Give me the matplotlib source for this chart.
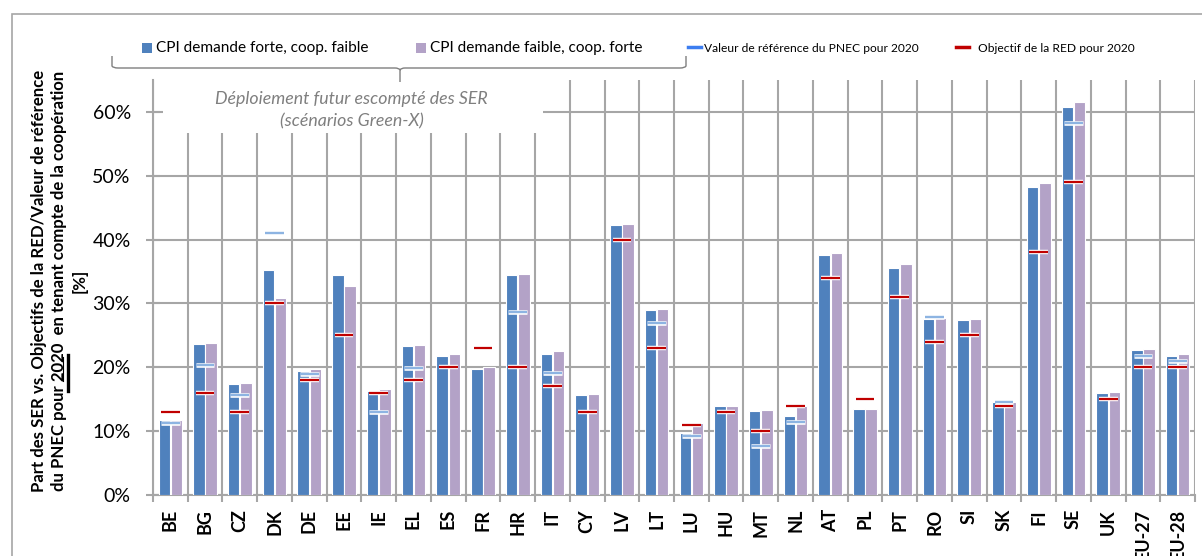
import numpy as np
import matplotlib
matplotlib.use('Agg')
import matplotlib.pyplot as plt
import matplotlib.patheffects as pe
from matplotlib.patches import Rectangle
from matplotlib.lines import Line2D
from matplotlib.path import Path
from matplotlib.patches import PathPatch

# --- data (% values) ---
countries = ['BE', 'BG', 'CZ', 'DK', 'DE', 'EE', 'IE', 'EL', 'ES', 'FR', 'HR', 'IT', 'CY', 'LV', 'LT',
             'LU', 'HU', 'MT', 'NL', 'AT', 'PL', 'PT', 'RO', 'SI', 'SK', 'FI', 'SE', 'UK', 'EU-27', 'EU-28']
cpi_high_demand = [11.7, 23.7, 17.4, 35.2, 19.5, 34.4, 16.3, 23.3, 21.7, 19.8, 34.4, 22.1, 15.6, 42.3, 28.9,
                   9.7, 14.0, 13.1, 12.3, 37.6, 13.5, 35.6, 27.6, 27.4, 14.5, 48.3, 60.7, 16.0, 22.7, 21.8]
cpi_low_demand = [11.7, 23.8, 17.6, 30.9, 19.8, 32.8, 16.6, 23.5, 22.1, 20.1, 34.6, 22.5, 15.8, 42.5, 29.2,
                  11.3, 14.0, 13.3, 13.9, 37.9, 13.5, 36.2, 27.7, 27.5, 14.6, 48.8, 61.5, 16.2, 22.9, 22.1]
pnec_ref = [11.2, 20.3, 15.7, 41.0, 18.9, np.nan, 13.0, 19.9, np.nan, np.nan, 28.7, 19.1, np.nan, np.nan, 26.9,
            9.3, np.nan, 7.7, 11.4, np.nan, np.nan, np.nan, 27.9, np.nan, 14.5, np.nan, 58.3, np.nan, 21.8, 21.0]
red_target = [13, 16, 13, 30, 18, 25, 16, 18, 20, 23, 20, 17, 13, 40, 23,
              11, 13, 10, 14, 34, 15, 31, 24, 25, 14, 38, 49, 15, 20, 20]

BLUE = '#4F81BD'
PURPLE = '#B3A2C7'
PNEC_C = '#8DB4E2'
RED_C = '#C00000'
GRID = '#A6A6A6'
MAIN_FONT = ['Lato', 'DejaVu Sans']

W, H = 1202, 556
fig = plt.figure(figsize=(W / 100, H / 100), dpi=100)


def fx(px):
    return px / W


def fy(py):
    return 1 - py / H


ax = fig.add_axes([fx(153), fy(495), (1195 - 153) / W, (495 - 80) / H])

x = np.arange(len(countries))
ax.bar(x - 0.175, cpi_high_demand, 0.33, color=BLUE, edgecolor='white', linewidth=0.8, zorder=3)
ax.bar(x + 0.175, cpi_low_demand, 0.33, color=PURPLE, edgecolor='white', linewidth=0.8, zorder=3)

pn = np.array(pnec_ref)
m = ~np.isnan(pn)
ax.hlines(pn[m], x[m] - 0.27, x[m] + 0.27, color=PNEC_C, linewidth=1.7, zorder=4,
          path_effects=[pe.Stroke(linewidth=3.3, foreground='white'), pe.Normal()])
ax.hlines(red_target, x - 0.27, x + 0.27, color=RED_C, linewidth=1.6, zorder=5,
          path_effects=[pe.Stroke(linewidth=3.2, foreground='white'), pe.Normal()])

ax.set_xlim(-0.5, len(countries) - 0.5)
ax.set_ylim(0, 65)
ax.set_yticks(np.arange(0, 61, 10))
ax.set_yticklabels([f'{v}%' for v in range(0, 61, 10)], fontsize=14, family=MAIN_FONT)
ax.set_xticks(x)
ax.set_xticklabels(countries, rotation=90, fontsize=13, fontweight='bold', family=MAIN_FONT)
ax.set_xticks(np.arange(-0.5, len(countries), 1), minor=True)
ax.tick_params(axis='x', which='major', length=0, pad=10)
ax.tick_params(axis='x', which='minor', length=5, color=GRID, width=1.5)
ax.tick_params(axis='y', which='major', direction='inout', length=10, color=GRID, width=1.5, pad=11)
ax.grid(axis='x', which='minor', color=GRID, linewidth=1.5)
ax.grid(axis='y', which='major', color=GRID, linewidth=1.5)
ax.set_axisbelow(True)
for s in ['top', 'right']:
    ax.spines[s].set_visible(False)
for s in ['left', 'bottom']:
    ax.spines[s].set_color(GRID)
    ax.spines[s].set_linewidth(1.5)

# white box behind the scenario note
ax.add_patch(Rectangle(((163 - 153) / 1042, (495 - 133) / 415), (543 - 163) / 1042, 53 / 415,
                       transform=ax.transAxes, facecolor='white', edgecolor='none', zorder=2, clip_on=False))
fig.text(fx(351), fy(99), 'Déploiement futur escompté des SER', ha='center', va='center',
         fontsize=12.8, style='italic', color='#7F7F7F', family=MAIN_FONT, zorder=5)
fig.text(fx(352), fy(121), '(scénarios Green-X)', ha='center', va='center',
         fontsize=12.8, style='italic', color='#7F7F7F', family=MAIN_FONT, zorder=5)

# y label
fig.text(fx(59), fy(281),
         'Part des SER vs. Objectifs de la RED/Valeur de référence\n'
         'du PNEC pour 2020  en tenant compte de la coopération\n[%]',
         rotation=90, ha='center', va='center', multialignment='center',
         fontsize=12.1, fontweight='bold', family=MAIN_FONT, linespacing=1.34)
fig.add_artist(Line2D([fx(63), fx(63)], [fy(357), fy(381)], color='black', lw=0.8))
fig.add_artist(Line2D([fx(67.5), fx(67.5)], [fy(355), fy(391)], color='black', lw=2.4))

# legend
fig.add_artist(Rectangle((fx(142), fy(53)), 10 / W, 10 / H, facecolor=BLUE, edgecolor='none'))
fig.text(fx(156), fy(48), 'CPI demande forte, coop. faible', ha='left', va='center',
         fontsize=11.1, family=MAIN_FONT)
fig.add_artist(Rectangle((fx(416), fy(53)), 10 / W, 10 / H, facecolor=PURPLE, edgecolor='none'))
fig.text(fx(430), fy(48), 'CPI demande faible, coop. forte', ha='left', va='center',
         fontsize=11.1, family=MAIN_FONT)
fig.add_artist(Line2D([fx(688), fx(701)], [fy(47), fy(47)], color='#3C7DF0', lw=2.5))
fig.text(fx(704), fy(48), 'Valeur de référence du PNEC pour 2020', ha='left', va='center',
         fontsize=8.65, family=MAIN_FONT)
fig.add_artist(Line2D([fx(956), fx(969)], [fy(47), fy(47)], color=RED_C, lw=2.5))
fig.text(fx(978), fy(48), 'Objectif de la RED pour 2020', ha='left', va='center',
         fontsize=8.65, family=MAIN_FONT)

# brace under the first two legend entries
verts = [(112, 56), (112, 66), (113, 68), (118, 68),
         (395, 68), (399, 68), (400, 70), (400, 82),
         (400, 70), (401, 68), (405, 68),
         (680, 68), (685, 68), (686, 66), (686, 56)]
codes = [Path.MOVETO, Path.LINETO, Path.CURVE3, Path.CURVE3,
         Path.LINETO, Path.CURVE3, Path.CURVE3, Path.LINETO,
         Path.MOVETO, Path.CURVE3, Path.CURVE3,
         Path.LINETO, Path.CURVE3, Path.CURVE3, Path.LINETO]
fig.add_artist(PathPatch(Path([(fx(a), fy(b)) for a, b in verts], codes),
                         facecolor='none', edgecolor='#7F7F7F', lw=1))

# outer frame of the chart area
fig.add_artist(Rectangle((fx(12), -0.1), 1.2, fy(14) + 0.1, facecolor='none', edgecolor=GRID, lw=1.2))

fig.savefig('out.png', dpi=100)
